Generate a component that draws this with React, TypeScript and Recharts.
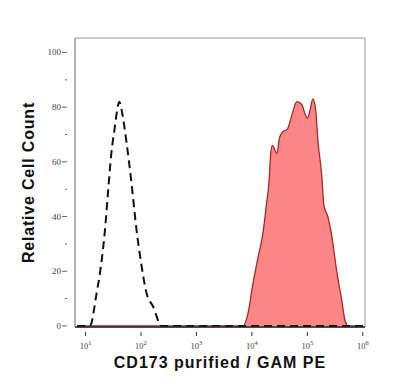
import React from 'react';
import { ComposedChart, Area, Line, XAxis, YAxis, ReferenceArea } from 'recharts';

// x values are log10 of fluorescence intensity
const isotypeLog = [0.85, 1.08, 1.2, 1.25, 1.35, 1.41, 1.46, 1.53, 1.59, 1.61, 1.65, 1.74, 1.83, 1.92, 2.01, 2.1, 2.22, 2.37, 6.0];
const isotypeCount = [0, 0, 12, 18, 35, 50, 62, 73, 81, 82, 79, 67, 52, 35, 22, 12, 7, 0, 0];

const stainedLog = [
  0.85, 3.84, 3.93, 4.02, 4.11, 4.2, 4.26, 4.31, 4.34, 4.37, 4.4, 4.45, 4.5, 4.56, 4.64, 4.72, 4.81,
  4.9, 4.95, 5.0, 5.05, 5.1, 5.15, 5.19, 5.26, 5.3, 5.37, 5.44, 5.53, 5.62, 5.68, 5.74, 6.0
];
const stainedCount = [
  0, 0, 4.6, 15.6, 25, 34, 44, 53, 63, 66, 65, 63, 69, 71, 72, 77, 82,
  81, 78, 76, 79, 83, 79, 68, 55, 44, 40, 33, 20, 9.5, 2, 0, 0
];

const decadeTicks = [1, 2, 3, 4, 5, 6];
const countTicks = [0, 10, 20, 30, 40, 50, 60, 70, 80, 90, 100];

const isotypeData = isotypeLog.map((x, i) => ({ x, count: isotypeCount[i] }));
const stainedData = stainedLog.map((x, i) => ({ x, count: stainedCount[i] }));

const tickFont = '"Liberation Serif", serif';
const titleFont = '"Liberation Sans", Arial, sans-serif';

const DecadeTick = (props: any) => {
  const { x, y, payload } = props;
  return (
    <g>
      <line x1={x} y1={y - 3} x2={x} y2={y + 1} stroke="#333" />
      <text x={x} y={y + 14} textAnchor="middle" fill="#444" fontSize={8.5} fontFamily={tickFont}>
        10
        <tspan dy={-4.5} fontSize={6.5}>{payload.value}</tspan>
      </text>
    </g>
  );
};

const CountTick = (props: any) => {
  const { x, y, payload } = props;
  const major = payload.value % 20 === 0;
  return (
    <g>
      <line x1={x - (major ? 5 : 2)} y1={y} x2={x} y2={y} stroke="#666" />
      {major && (
        <text x={x - 6} y={y} dy={3} textAnchor="end" fill="#444" fontSize={9} fontFamily={tickFont}>
          {payload.value}
        </text>
      )}
    </g>
  );
};

const App: React.FC = () => {
  return (
    <div style={{ position: 'absolute', left: 0, top: 0, width: 400, height: 390, background: '#fff' }}>
      <ComposedChart width={400} height={390} margin={{ top: 38, right: 35, bottom: 0, left: 0 }}>
        <XAxis
          type="number"
          dataKey="x"
          domain={[0.81, 6.04]}
          ticks={decadeTicks}
          allowDataOverflow
          height={63}
          stroke="#222"
          strokeWidth={1.3}
          tickLine={false}
          tick={<DecadeTick />}
          label={{
            content: (p: any) => {
              const vb = p.viewBox;
              return (
                <text
                  x={vb.x + vb.width / 2}
                  y={368}
                  textAnchor="middle"
                  fontSize={16}
                  letterSpacing={1}
                  fontWeight="bold"
                  fontFamily={titleFont}
                  fill="#111"
                >
                  CD173 purified / GAM PE
                </text>
              );
            }
          }}
        />
        <YAxis
          type="number"
          domain={[-0.4, 105.3]}
          ticks={countTicks}
          allowDataOverflow
          width={75}
          stroke="#999"
          tickLine={false}
          tick={<CountTick />}
          label={{
            content: (p: any) => {
              const vb = p.viewBox;
              const cy = vb.y + vb.height / 2;
              return (
                <text
                  x={28}
                  y={cy}
                  transform={`rotate(-90, 28, ${cy})`}
                  textAnchor="middle"
                  dominantBaseline="central"
                  fontSize={16}
                  letterSpacing={0.8}
                  fontWeight="bold"
                  fontFamily={titleFont}
                  fill="#111"
                >
                  Relative Cell Count
                </text>
              );
            }
          }}
        />
        <ReferenceArea x1={0.81} x2={6.04} y1={-0.4} y2={105.3} fill="none" stroke="#999" strokeWidth={1} />
        <Area
          data={stainedData}
          dataKey="count"
          type="monotone"
          stroke="#a52a2a"
          strokeWidth={1.3}
          fill="#fa8080"
          fillOpacity={0.95}
          isAnimationActive={false}
        />
        <Line
          data={isotypeData}
          dataKey="count"
          type="monotone"
          stroke="#111"
          strokeWidth={2}
          strokeDasharray="8 5"
          dot={false}
          isAnimationActive={false}
        />
      </ComposedChart>
    </div>
  );
};

export default App;
